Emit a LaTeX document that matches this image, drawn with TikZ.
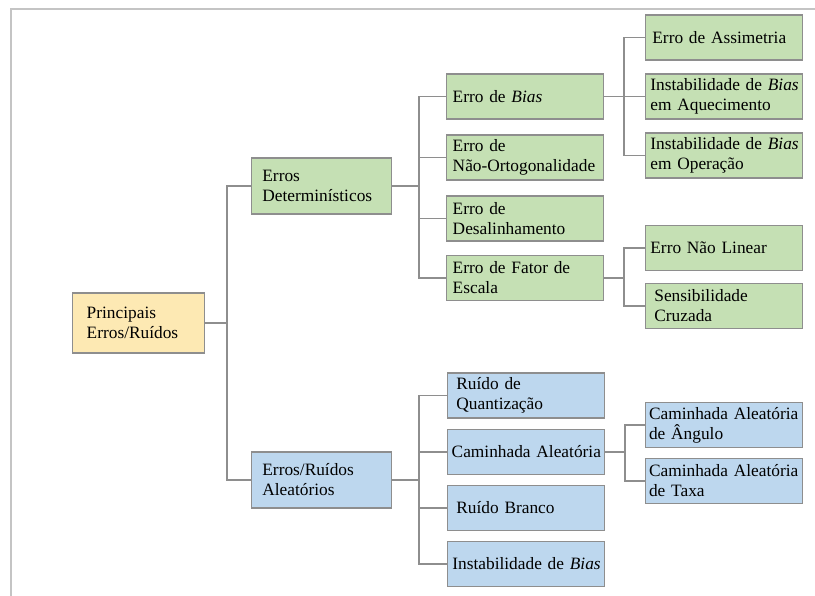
\documentclass[tikz,border=0pt]{standalone}
\usepackage{fontspec}
\setmainfont{Liberation Serif}
\definecolor{detgreen}{HTML}{C5E0B4}
\definecolor{aleblue}{HTML}{BDD7EE}
\definecolor{rootyellow}{HTML}{FDE9B3}
\definecolor{linegray}{HTML}{8E8E8E}
\definecolor{framegray}{HTML}{C4C4C4}
\begin{document}
\begin{tikzpicture}[
	x=0.75pt,y=-0.75pt,
	line cap=rect,
	box/.style={draw=linegray,line width=1.1pt,anchor=west,align=left,
		inner ysep=1pt,font=\fontsize{13}{15}\selectfont},
	rootbox/.style={box,fill=rootyellow,minimum height=45pt,inner xsep=10.5pt,text width=78pt},
	catbox/.style={box,minimum height=42pt,inner xsep=8pt,text width=89pt},
	leafbox/.style={box,minimum height=33.75pt,inner xsep=1.5pt,text width=114.75pt},
	conn/.style={draw=linegray,line width=1.1pt}
	]
	\useasboundingbox (0,0) rectangle (815,596);
	\draw[framegray,line width=0.9pt] (11,596) -- (11,9) -- (815,9);

	% root and categories
	\node[rootbox] (root) at (72,323) {Principais\\Erros/Ruídos};
	\node[catbox,fill=detgreen] (det) at (251,186) {Erros\\Determinísticos};
	\node[catbox,fill=aleblue] (ale) at (251,480) {Erros/Ruídos\\Aleatórios};

	% deterministic errors
	\begin{scope}[every node/.style={leafbox,fill=detgreen}]
		\node (bias) at (446,96.5) {\hspace*{3pt}Erro de \textit{Bias}};
		\node (orto) at (446,157.5) {\hspace*{3pt}Erro de\\\hspace*{3pt}\mbox{Não-Ortogonalidade}};
		\node (desal) at (446,218.5) {\hspace*{3pt}Erro de\\\hspace*{3pt}Desalinhamento};
		\node (fator) at (446,278) {\hspace*{3pt}Erro de Fator de\\\hspace*{3pt}Escala};
		\node (assim) at (645,37.5) {\hspace*{3.5pt}Erro de Assimetria};
		\node (aquec) at (645,96.5) {\hspace*{2pt}Instabilidade de \textit{Bias}\\\hspace*{2pt}em Aquecimento};
		\node (oper) at (645,155.5) {\hspace*{2pt}Instabilidade de \textit{Bias}\\\hspace*{2pt}em Operação};
		\node (naolin) at (645,248) {\hspace*{2pt}Erro Não Linear};
		\node (cruz) at (645,306) {\hspace*{5pt}Sensibilidade\\\hspace*{5pt}Cruzada};
	\end{scope}

	% random errors
	\begin{scope}[every node/.style={leafbox,fill=aleblue}]
		\node (quant) at (447,395.5) {\hspace*{5pt}Ruído de\\\hspace*{5pt}Quantização};
		\node (camin) at (447,452) {\hspace*{1.5pt}Caminhada Aleatória};
		\node (branco) at (447,508) {\hspace*{5pt}Ruído Branco};
		\node (instab) at (447,564) {\hspace*{2pt}Instabilidade de \textit{Bias}};
		\node (angulo) at (645,425) {\hspace*{1pt}Caminhada Aleatória\\\hspace*{1pt}de Ângulo};
		\node (taxa) at (645,481) {\hspace*{1pt}Caminhada Aleatória\\\hspace*{1pt}de Taxa};
	\end{scope}

	% buses
	\coordinate (b0) at (227,323);
	\coordinate (b1) at (419,186);
	\coordinate (b2) at (624,96.5);
	\coordinate (b3) at (624,278);
	\coordinate (b4) at (419,480);
	\coordinate (b5) at (625,452);

	\draw[conn] (root.east) -- (b0);
	\foreach \n in {det,ale} \draw[conn] (b0) |- (\n.west);
	\draw[conn] (det.east) -- (b1);
	\foreach \n in {bias,orto,desal,fator} \draw[conn] (b1) |- (\n.west);
	\draw[conn] (bias.east) -- (b2);
	\foreach \n in {assim,aquec,oper} \draw[conn] (b2) |- (\n.west);
	\draw[conn] (fator.east) -- (b3);
	\foreach \n in {naolin,cruz} \draw[conn] (b3) |- (\n.west);
	\draw[conn] (ale.east) -- (b4);
	\foreach \n in {quant,camin,branco,instab} \draw[conn] (b4) |- (\n.west);
	\draw[conn] (camin.east) -- (b5);
	\foreach \n in {angulo,taxa} \draw[conn] (b5) |- (\n.west);
\end{tikzpicture}
\end{document}
